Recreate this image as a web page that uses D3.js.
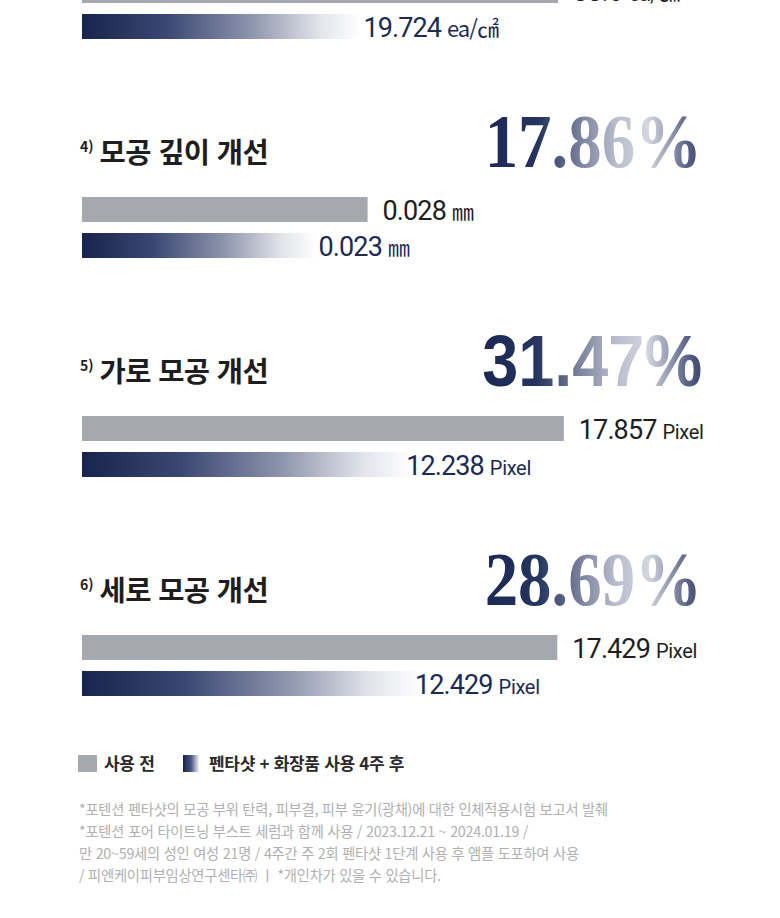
<!DOCTYPE html>
<html lang="ko">
<head>
<meta charset="utf-8">
<script src="https://cdn.jsdelivr.net/npm/d3@7"></script>
<style>
  html, body { margin: 0; padding: 0; background: #fff; }
  #chart { width: 780px; height: 918px; overflow: hidden; }
  svg { display: block; }
</style>
</head>
<body>
<div id="chart"></div>
<script>
(function () {
  'use strict';

  // ── Data ────────────────────────────────────────────────────────────────
  const ITEM_NO    = ['3)', '4)', '5)', '6)'];
  const TITLES     = ['', '모공 깊이 개선', '가로 모공 개선', '세로 모공 개선'];
  const BEFORE     = [33.6, 0.028, 17.857, 17.429];
  const AFTER      = [19.724, 0.023, 12.238, 12.429];
  const UNITS      = ['ea/㎠', '㎜', 'Pixel', 'Pixel'];
  const IMPROVE    = ['', '17.86', '31.47', '28.69'];
  const DOMAIN_MAX = [36, 0.05, 18.9, 18.7];
  const SERIES     = ['before', 'after'];
  const LEGEND     = ['사용 전', '펜타샷 + 화장품 사용 4주 후'];
  const NOTES = [
    '*포텐션 펜타샷의 모공 부위 탄력, 피부결, 피부 윤기(광채)에 대한 인체적용시험 보고서 발췌',
    '*포텐션 포어 타이트닝 부스트 세럼과 함께 사용 / 2023.12.21 ~ 2024.01.19 /',
    '만 20~59세의 성인 여성 21명 / 4주간 주 2회 펜타샷 1단계 사용 후 앰플 도포하여 사용',
    '/ 피엔케이피부임상연구센타㈜ ㅣ *개인차가 있을 수 있습니다.'
  ];

  // ── Layout ──────────────────────────────────────────────────────────────
  const W = 780, H = 918;
  const LEFT = 82;
  const BAR_W = 510;
  const PCT_RIGHT = 702;
  const FIRST_BASE = -56;   // title baseline of first (cut-off) section
  const STEP = 219;
  const NAVY = '#1b2a55';
  const GRAY = '#a5a8ad';
  const KR = '"Noto Sans CJK KR", "Noto Sans", sans-serif';
  const NUM = 'Roboto, "Noto Sans", sans-serif';

  const svg = d3.select('#chart').append('svg')
    .attr('width', W).attr('height', H)
    .attr('viewBox', `0 0 ${W} ${H}`);

  const defs = svg.append('defs');

  const barGrad = defs.append('linearGradient')
    .attr('id', 'bar-grad').attr('x1', 0).attr('x2', 1).attr('y1', 0).attr('y2', 0);
  [[0, '#17244d'], [0.3, '#3a4772'], [0.6, '#8c93ab'], [0.85, '#e2e4ea'], [1, '#ffffff']]
    .forEach(([o, c]) => barGrad.append('stop').attr('offset', o).attr('stop-color', c));

  const pctGrad = defs.append('linearGradient')
    .attr('id', 'pct-grad').attr('x1', 0).attr('x2', 1).attr('y1', 0).attr('y2', 0);
  [[0, '#1a2853'], [0.25, '#26355f'], [0.45, '#7d85a0'], [0.6, '#b7bbca'], [0.75, '#d4d6df'], [0.84, '#9ca2b7'], [0.93, '#5b6487'], [1, '#3a4670']]
    .forEach(([o, c]) => pctGrad.append('stop').attr('offset', o).attr('stop-color', c));

  const legGrad = defs.append('linearGradient')
    .attr('id', 'leg-grad').attr('x1', 0).attr('x2', 1).attr('y1', 0).attr('y2', 0);
  [[0, '#17244d'], [0.5, '#4a5680'], [1, '#f2f3f6']]
    .forEach(([o, c]) => legGrad.append('stop').attr('offset', o).attr('stop-color', c));

  // ── Sections ────────────────────────────────────────────────────────────
  BEFORE.forEach((before, i) => {
    const base = FIRST_BASE + i * STEP;
    const g = svg.append('g');

    const x = d3.scaleLinear().domain([0, DOMAIN_MAX[i]]).range([LEFT, LEFT + BAR_W]);
    const y = d3.scaleBand().domain(SERIES)
      .range([base + 34, base + 95]).paddingInner(11 / 36).paddingOuter(0);

    // title
    if (TITLES[i]) {
      const t = g.append('text')
        .attr('x', LEFT - 2).attr('y', base)
        .attr('font-family', KR).attr('font-weight', 700)
        .attr('fill', '#1e1e1e');
      t.append('tspan').attr('font-size', 14).attr('dy', -11).text(ITEM_NO[i]);
      t.append('tspan').attr('font-size', 28.5).attr('dx', 6).attr('dy', 11)
        .attr('letter-spacing', -0.6).text(TITLES[i]);
    }

    // improvement percentage
    if (IMPROVE[i]) {
      const sans = i === 2;
      g.append('text')
        .attr('transform', `translate(${PCT_RIGHT},${base + 4}) scale(${sans ? 0.9 : 0.88},1)`)
        .attr('text-anchor', 'end')
        .attr('font-family', sans ? '"Liberation Sans", Arial, sans-serif' : '"Liberation Serif", "DejaVu Serif", serif')
        .attr('font-weight', 700)
        .attr('font-size', sans ? 72 : 76)
        .attr('fill', 'url(#pct-grad)')
        .text(IMPROVE[i] + '%');
    }

    const vals = [before, AFTER[i]];

    // bars
    g.selectAll('rect.bar')
      .data(SERIES)
      .enter().append('rect')
      .attr('class', 'bar')
      .attr('x', x(0))
      .attr('y', d => y(d))
      .attr('width', (d, j) => x(vals[j]) - x(0))
      .attr('height', y.bandwidth())
      .attr('fill', d => d === 'before' ? GRAY : 'url(#bar-grad)');

    // value labels
    const isPixel = UNITS[i] === 'Pixel';
    const lab = g.selectAll('text.val')
      .data(SERIES)
      .enter().append('text')
      .attr('class', 'val')
      .attr('x', (d, j) => x(vals[j]) + (d === 'before' ? 15 : (isPixel ? -6 : 2)))
      .attr('y', d => y(d) + 23)
      .attr('font-family', NUM)
      .attr('fill', d => d === 'before' ? '#1e1e1e' : NAVY);
    lab.append('tspan').attr('font-size', 27).attr('letter-spacing', -0.9)
      .text((d, j) => String(vals[j]));
    lab.append('tspan').attr('font-size', isPixel ? 20 : 22).attr('dx', 6)
      .attr('letter-spacing', isPixel ? -0.3 : -1)
      .attr('font-family', isPixel ? NUM : '"Noto Sans CJK KR", serif')
      .text(UNITS[i]);
  });

  // ── Legend ──────────────────────────────────────────────────────────────
  const leg = svg.append('g').attr('transform', 'translate(78,755)');
  const legX = [0, 105];
  LEGEND.forEach((label, i) => {
    leg.append('rect').attr('x', legX[i]).attr('y', 0)
      .attr('width', i === 0 ? 19 : 16).attr('height', 17)
      .attr('fill', i === 0 ? GRAY : 'url(#leg-grad)');
    leg.append('text').attr('x', legX[i] + 26).attr('y', 15)
      .attr('font-family', KR).attr('font-weight', 700).attr('font-size', 17)
      .attr('fill', '#2a2a2a').attr('letter-spacing', -0.3)
      .text(label);
  });

  // ── Footnotes ───────────────────────────────────────────────────────────
  svg.append('g').selectAll('text')
    .data(NOTES)
    .enter().append('text')
    .attr('x', 79)
    .attr('y', (d, i) => 815 + i * 22)
    .attr('font-family', KR)
    .attr('font-size', 14.3)
    .attr('letter-spacing', -0.25)
    .attr('fill', '#b0b0b0')
    .text(d => d);
})();
</script>
</body>
</html>
